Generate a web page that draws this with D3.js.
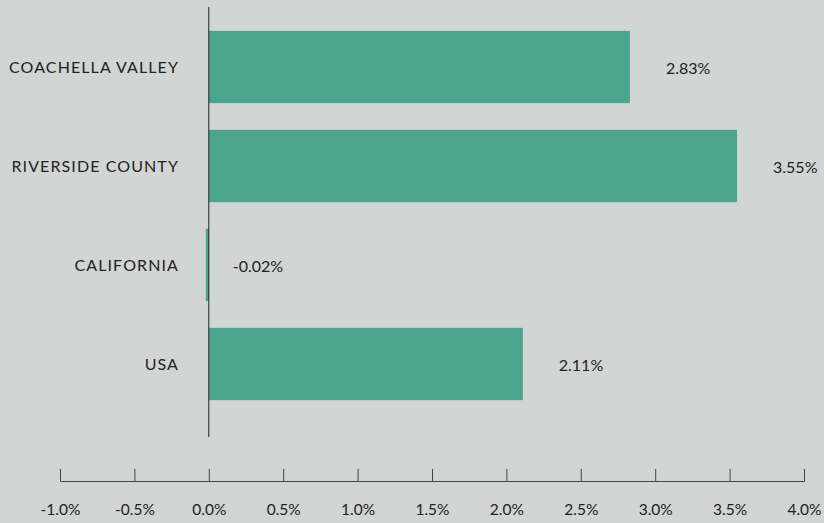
<!DOCTYPE html>
<html>
<head>
<meta charset="utf-8">
<script src="https://cdn.jsdelivr.net/npm/d3@7"></script>
<style>
  body { margin: 0; background: #d1d5d4; }
  svg { display: block; font-family: Lato, "Open Sans", sans-serif; }
  .cat-label { font-size: 16px; letter-spacing: 1.1px; fill: #222; }
  .val-label { font-size: 16px; fill: #222; }
  .x-axis text { font-size: 15.5px; fill: #222; font-family: Lato, "Open Sans", sans-serif; }
  .x-axis line, .x-axis path { stroke: #444; }
</style>
</head>
<body>
<div id="chart"></div>
<script>
const regions = ["COACHELLA VALLEY", "RIVERSIDE COUNTY", "CALIFORNIA", "USA"];
const growth = [2.83, 3.55, -0.02, 2.11];
const tickValues = [-1.0, -0.5, 0.0, 0.5, 1.0, 1.5, 2.0, 2.5, 3.0, 3.5, 4.0];

const width = 824, height = 523;

const svg = d3.select("#chart")
    .append("svg")
    .attr("width", width)
    .attr("height", height);

const data = regions.map((r, i) => ({ region: r, value: growth[i] }));

const xScale = d3.scaleLinear()
    .domain([-1, 4])
    .range([60, 804]);

const yScale = d3.scaleBand()
    .domain(regions)
    .range([17.5, 413.5])
    .paddingInner(0.27)
    .paddingOuter(0.135);

// bars
svg.append("g")
    .selectAll("rect")
    .data(data)
    .enter()
    .append("rect")
    .attr("x", d => xScale(Math.min(0, d.value)))
    .attr("y", d => yScale(d.region))
    .attr("width", d => Math.abs(xScale(d.value) - xScale(0)))
    .attr("height", yScale.bandwidth())
    .attr("fill", "#4ba48e");

// zero line
svg.append("line")
    .attr("x1", xScale(0))
    .attr("x2", xScale(0))
    .attr("y1", 7)
    .attr("y2", 437)
    .attr("stroke", "#222")
    .attr("stroke-width", 1);

// category labels
svg.append("g")
    .selectAll("text")
    .data(data)
    .enter()
    .append("text")
    .attr("class", "cat-label")
    .attr("x", 179)
    .attr("y", d => yScale(d.region) + yScale.bandwidth() / 2)
    .attr("dy", "0.35em")
    .attr("text-anchor", "end")
    .text(d => d.region);

// value labels
svg.append("g")
    .selectAll("text")
    .data(data)
    .enter()
    .append("text")
    .attr("class", "val-label")
    .attr("x", d => xScale(Math.max(0, d.value)) + (d.value < 0 ? 24 : 36))
    .attr("y", d => yScale(d.region) + yScale.bandwidth() / 2 + 1)
    .attr("dy", "0.35em")
    .attr("text-anchor", "start")
    .text(d => d.value.toFixed(2) + "%");

// x axis, ticks pointing up
svg.append("g")
    .attr("class", "x-axis")
    .attr("transform", "translate(0,481)")
    .call(d3.axisTop(xScale)
        .tickValues(tickValues)
        .tickSize(12)
        .tickSizeOuter(12)
        .tickFormat(d => d.toFixed(1) + "%"))
    .call(g => g.selectAll(".tick text")
        .attr("y", 29)
        .attr("dy", "0.35em"));
</script>
</body>
</html>
